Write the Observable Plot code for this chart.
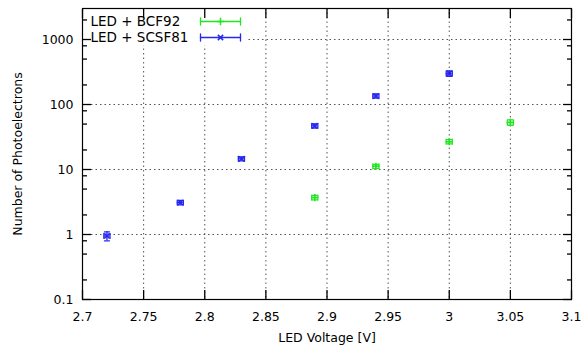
<!DOCTYPE html>
<html><head><meta charset="utf-8">
<script src="https://cdn.jsdelivr.net/npm/d3@7"></script>
<script src="https://cdn.jsdelivr.net/npm/@observablehq/plot@0.6"></script>
<style>html,body{margin:0;padding:0;background:#fff;}</style>
</head><body><div id="chart"></div>
<script>
// Data
const seriesNames = ["LED + BCF92", "LED + SCSF81"];
const seriesColors = ["#22e622", "#2626f2"];
const seriesSymbols = ["plus", "times"];
const bcfVoltage = [2.89, 2.94, 3.00, 3.05];
const bcfPE      = [3.7, 11.2, 26.8, 53];
const bcfVErr    = [0.0025, 0.0025, 0.0025, 0.0025];
const bcfPEErr   = [0.3, 0.8, 2.0, 5.0];
const scsfVoltage = [2.72, 2.78, 2.83, 2.89, 2.94, 3.00];
const scsfPE      = [0.95, 3.1, 14.6, 47, 135, 300];
const scsfVErr    = [0.0025, 0.0025, 0.0025, 0.0025, 0.0025, 0.0025];
const scsfPEErr   = [0.15, 0.25, 1.0, 3.5, 10, 28];
const xDomain = [2.7, 3.1];
const yDomain = [0.1, 3000];
const xTicks = [2.7, 2.75, 2.8, 2.85, 2.9, 2.95, 3.0, 3.05, 3.1];
const yTicks = [0.1, 1, 10, 100, 1000];
const yMinorTicks = [0.2, 0.5, 0.8, 2, 5, 8, 20, 50, 80, 200, 500, 800, 2000];

const rows = [
  ...bcfVoltage.map((v, i) => ({series: 0, v, pe: bcfPE[i], ve: bcfVErr[i], pee: bcfPEErr[i]})),
  ...scsfVoltage.map((v, i) => ({series: 1, v, pe: scsfPE[i], ve: scsfVErr[i], pee: scsfPEErr[i]}))
];
const col = d => seriesColors[d.series];
const seg = {draw(ctx, l) { ctx.moveTo(0, 0); ctx.lineTo(0, -l); }};
const fmtX = d => String(+d.toFixed(2));
const noText = () => "";
const ebW = 1.3;

// legend marks (one set per series, offset by row)
const legendMarks = seriesNames.flatMap((name, i) => {
  const dy = 13 + 16 * i;
  const c = seriesColors[i];
  return [
    Plot.text([name], {text: d => d, frameAnchor: "top-left", dx: 8, dy, textAnchor: "start", lineAnchor: "middle", fill: "black", fontSize: 13.5}),
    Plot.vector([name], {frameAnchor: "top-left", dx: 118, dy, rotate: 90, length: 40, anchor: "start", shape: seg, stroke: c, strokeWidth: ebW}),
    Plot.vector([name], {frameAnchor: "top-left", dx: 118, dy, rotate: 0, length: 7, anchor: "middle", shape: seg, stroke: c, strokeWidth: ebW}),
    Plot.vector([name], {frameAnchor: "top-left", dx: 158, dy, rotate: 0, length: 7, anchor: "middle", shape: seg, stroke: c, strokeWidth: ebW}),
    Plot.dot([name], {frameAnchor: "top-left", dx: 138, dy, symbol: seriesSymbols[i], r: 2.5, stroke: c, strokeWidth: 1.5})
  ];
});

const tickOpts = {tickFormat: noText, label: null, stroke: "black", strokeWidth: 1.3};

const chart = Plot.plot({
  width: 587,
  height: 347,
  marginLeft: 82,
  marginRight: 16,
  marginTop: 8,
  marginBottom: 48,
  style: {fontFamily: "DejaVu Sans", fontSize: "12.5px", background: "white", color: "black"},
  x: {domain: xDomain, axis: null},
  y: {type: "log", domain: yDomain, axis: null},
  marks: [
    Plot.gridX(xTicks, {stroke: "#555", strokeOpacity: 1, strokeDasharray: "1.5,3"}),
    Plot.gridY(yTicks, {stroke: "#555", strokeOpacity: 1, strokeDasharray: "1.5,3"}),
    Plot.frame({fill: "white", stroke: null, insetLeft: 1, insetTop: 1, insetRight: 324, insetBottom: 254}),
    // error bars
    Plot.ruleY(rows, {y: "pe", x1: d => d.v - d.ve, x2: d => d.v + d.ve, stroke: col, strokeWidth: ebW}),
    Plot.ruleX(rows, {x: "v", y1: d => d.pe - d.pee, y2: d => d.pe + d.pee, stroke: col, strokeWidth: ebW}),
    Plot.vector(rows, {x: d => d.v - d.ve, y: "pe", length: 5, rotate: 0, anchor: "middle", shape: seg, stroke: col, strokeWidth: ebW}),
    Plot.vector(rows, {x: d => d.v + d.ve, y: "pe", length: 5, rotate: 0, anchor: "middle", shape: seg, stroke: col, strokeWidth: ebW}),
    Plot.vector(rows, {x: "v", y: d => d.pe - d.pee, length: 5, rotate: 90, anchor: "middle", shape: seg, stroke: col, strokeWidth: ebW}),
    Plot.vector(rows, {x: "v", y: d => d.pe + d.pee, length: 5, rotate: 90, anchor: "middle", shape: seg, stroke: col, strokeWidth: ebW}),
    Plot.dot(rows, {x: "v", y: "pe", symbol: d => seriesSymbols[d.series], r: 2.5, stroke: col, strokeWidth: 1.5}),
    ...legendMarks,
    // frame & inward ticks on all four sides
    Plot.frame({stroke: "black", strokeWidth: 1.2}),
    Plot.axisX(xTicks, {anchor: "bottom", tickSize: 9, dy: -9, ...tickOpts}),
    Plot.axisX(xTicks, {anchor: "top", tickSize: 9, dy: 9, ...tickOpts}),
    Plot.axisY(yTicks, {anchor: "left", tickSize: 9, dx: 9, ...tickOpts}),
    Plot.axisY(yTicks, {anchor: "right", tickSize: 9, dx: -9, ...tickOpts}),
    Plot.axisY(yMinorTicks, {anchor: "left", tickSize: 5, dx: 5, ...tickOpts}),
    Plot.axisY(yMinorTicks, {anchor: "right", tickSize: 5, dx: -5, ...tickOpts}),
    // tick labels
    Plot.text(xTicks, {x: d => d, text: fmtX, frameAnchor: "bottom", dy: 17, textAnchor: "middle", lineAnchor: "middle", fill: "black"}),
    Plot.text(yTicks, {y: d => d, text: d => String(d), frameAnchor: "left", dx: -9, textAnchor: "end", lineAnchor: "middle", fill: "black"}),
    // axis titles
    Plot.text(["LED Voltage [V]"], {text: d => d, frameAnchor: "bottom", dy: 38, textAnchor: "middle", lineAnchor: "middle", fill: "black"}),
    Plot.text(["Number of Photoelectrons"], {text: d => d, frameAnchor: "left", dx: -65, rotate: -90, textAnchor: "middle", lineAnchor: "middle", fill: "black"})
  ]
});
document.getElementById("chart").appendChild(chart);
</script>
</body></html>
